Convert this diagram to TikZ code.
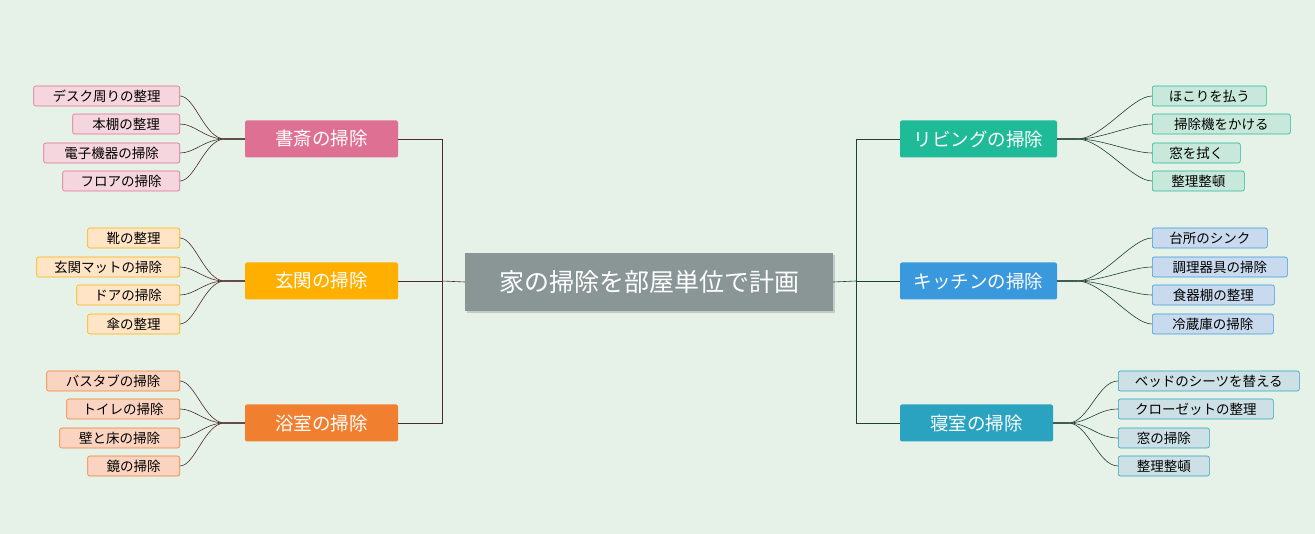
\documentclass[tikz,border=0pt]{standalone}
\usepackage{fontspec}
\setmainfont{Noto Sans CJK JP}
\usetikzlibrary{shadows,calc}
\definecolor{bg}{HTML}{E6F2E8}
\definecolor{cA}{HTML}{DD7093}\definecolor{fA}{HTML}{F5D5DE}
\definecolor{cB}{HTML}{FFAF00}\definecolor{fB}{HTML}{FFE5C6}
\definecolor{cC}{HTML}{F08030}\definecolor{fC}{HTML}{FAD4C0}
\definecolor{cD}{HTML}{1FBA98}\definecolor{fD}{HTML}{C9E8DC}
\definecolor{cE}{HTML}{3A99DD}\definecolor{fE}{HTML}{C9DAEE}
\definecolor{cF}{HTML}{2AA3C0}\definecolor{fF}{HTML}{CCE0E6}
\definecolor{cR}{HTML}{8A9696}
\definecolor{lnL}{HTML}{4A2A2A}\definecolor{lnR}{HTML}{1F3F35}
\tikzset{
 x=1pt,y=-1pt,
 leafbox/.style={draw=#1,line width=0.6pt,rounded corners=2pt,minimum height=20pt,inner ysep=0pt,inner xsep=0pt,font=\fontsize{13.5}{13.5}\selectfont,text=black},
 branchbox/.style={fill=#1,rounded corners=2pt,minimum width=153pt,minimum height=37pt,text=white,font=\fontsize{18.5}{18.5}\selectfont},
 rootbox/.style={fill=cR,minimum width=368pt,minimum height=58pt,text=white,font=\fontsize{25}{25}\selectfont,drop shadow={opacity=0.35,shadow xshift=2pt,shadow yshift=-2pt}},
 lconn/.style={draw=lnL,line width=0.6pt},
 rconn/.style={draw=lnR,line width=0.6pt}
}
\newcommand\leafL[6]{%
 \node[leafbox=#4,fill=#5,minimum width=180-#2,anchor=east] (#1) at (180,#3) {#6};}
\newcommand\leafR[7]{%
 \node[leafbox=#5,fill=#6,minimum width=#3-#2,anchor=west] (#1) at (#2,#4) {#7};}
\begin{document}
\begin{tikzpicture}
\fill[bg] (0,0) rectangle (1315,534);
\useasboundingbox (0,0) rectangle (1315,534);
\node[rootbox] (root) at (649,282) {家の掃除を部屋単位で計画\hspace{12pt}};
\node[branchbox=cA] (bA) at (321.5,139) {書斎の掃除\hspace{8pt}};
\node[branchbox=cB] (bB) at (321.5,281) {玄関の掃除\hspace{8pt}};
\node[branchbox=cC] (bC) at (321.5,423) {浴室の掃除\hspace{8pt}};
\node[branchbox=cD,minimum width=157pt] (bD) at (978.5,139) {リビングの掃除};
\node[branchbox=cE,minimum width=157pt] (bE) at (978.5,281) {キッチンの掃除};
\node[branchbox=cF,minimum width=153pt] (bF) at (976.5,423) {寝室の掃除\hspace{8pt}};
\coordinate (jl) at (442,281);
\coordinate (jr) at (856,281);
\draw[lconn] (root.west) -- (jl);
\draw[lconn] (bA.east) -| (jl);
\draw[lconn] (bC.east) -| (jl);
\draw[lconn] (bB.east) -- (jl);
\draw[rconn] (root.east) -- (jr);
\draw[rconn] (bD.west) -| (jr);
\draw[rconn] (bF.west) -| (jr);
\draw[rconn] (bE.west) -- (jr);
\leafL{a1}{34}{96}{cA}{fA}{デスク周りの整理}
\leafL{a2}{73}{124}{cA}{fA}{本棚の整理}
\leafL{a3}{44}{153}{cA}{fA}{電子機器の掃除}
\leafL{a4}{63}{181}{cA}{fA}{フロアの掃除}
\leafL{b1}{88}{238}{cB}{fB}{靴の整理}
\leafL{b2}{37}{267}{cB}{fB}{玄関マットの掃除}
\leafL{b3}{77}{295}{cB}{fB}{ドアの掃除}
\leafL{b4}{88}{324}{cB}{fB}{傘の整理}
\leafL{c1}{47}{381}{cC}{fC}{バスタブの掃除}
\leafL{c2}{67}{409}{cC}{fC}{トイレの掃除}
\leafL{c3}{60}{438}{cC}{fC}{壁と床の掃除}
\leafL{c4}{88}{466}{cC}{fC}{鏡の掃除}
\leafR{d1}{1152}{1266}{96}{cD}{fD}{ほこりを払う}
\leafR{d2}{1152}{1290}{124}{cD}{fD}{掃除機をかける}
\leafR{d3}{1152}{1240}{153}{cD}{fD}{窓を拭く}
\leafR{d4}{1152}{1244}{181}{cD}{fD}{整理整頓}
\leafR{e1}{1152}{1267}{238}{cE}{fE}{台所のシンク}
\leafR{e2}{1152}{1287}{267}{cE}{fE}{調理器具の掃除}
\leafR{e3}{1152}{1274}{295}{cE}{fE}{食器棚の整理}
\leafR{e4}{1152}{1273}{324}{cE}{fE}{冷蔵庫の掃除}
\leafR{f1}{1118}{1299}{381}{cF}{fF}{ベッドのシーツを替える}
\leafR{f2}{1118}{1273}{409}{cF}{fF}{クローゼットの整理}
\leafR{f3}{1118}{1209}{438}{cF}{fF}{窓の掃除}
\leafR{f4}{1118}{1209}{466}{cF}{fF}{整理整頓}
\foreach \b/\l in {bA/a,bB/b,bC/c}{
 \foreach \i in {1,...,4}{
  \draw[lconn] (\b.west) -- ++(-20,0) .. controls ++(-20,0) and ($(\l\i.east)+(15,0)$) .. (\l\i.east);
 }}
\foreach \b/\l in {bD/d,bE/e}{
 \foreach \i in {1,...,4}{
  \draw[rconn] (\b.east) -- ++(20,0) .. controls ++(25,0) and ($(\l\i.west)+(-20,0)$) .. (\l\i.west);
 }}
\foreach \i in {1,...,4}{
  \draw[rconn] (bF.east) -- ++(15,0) .. controls ++(20,0) and ($(f\i.west)+(-20,0)$) .. (f\i.west);
 }
\end{tikzpicture}
\end{document}
